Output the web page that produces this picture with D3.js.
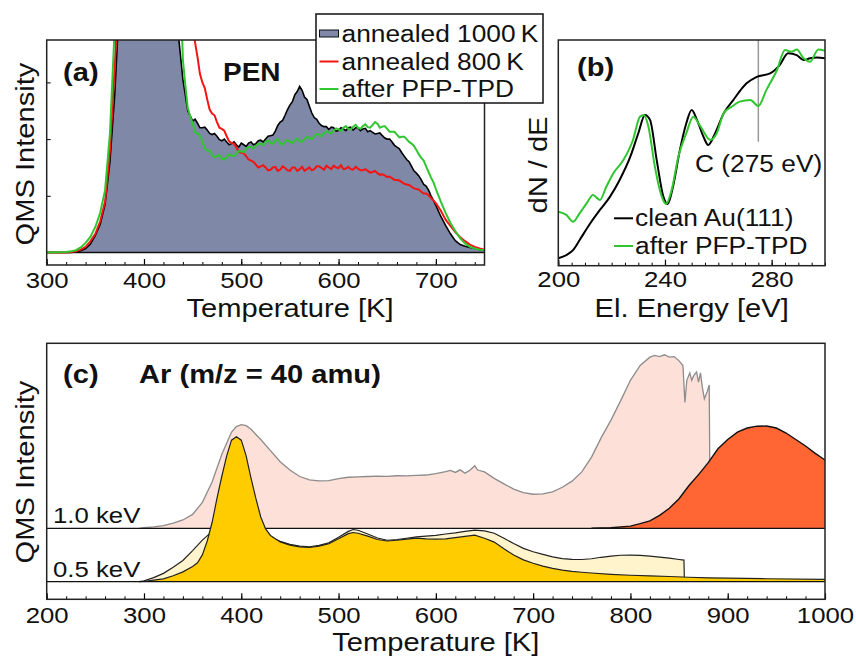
<!DOCTYPE html>
<html>
<head>
<meta charset="utf-8">
<script src="https://cdn.jsdelivr.net/npm/d3@7"></script>
<style>
body { margin: 0; background: #fff; }
svg text { font-family: "Liberation Sans", Arial, sans-serif; fill: #111; }
</style>
</head>
<body>
<svg id="fig" width="856" height="657"></svg>
<script>
// ---------- data ----------
// panel (a): PEN TPD, [T (K), intensity]; the *Fine arrays hold the in-between noisy readings
const pen1000Main = [[300,0],[320,0],[325,0],[330,0.01],[335,0.03],[340,0.07],[345,0.15],[350,0.3],[355,0.5],[360,0.85],
  [365,1.6],[370,2.8],[375,4.5],[380,6],[430,6],[435,3.9],[440,3.05],[445,2.5],[450,2.32],[455,2.28],[460,2.2],
  [465,2.16],[470,2.08],[475,2.05],[480,1.97],[485,1.95],[490,1.92],[495,1.9],[500,1.93],[505,1.87],[510,1.95],
  [515,1.92],[520,1.98],[525,2.0],[530,2.06],[535,2.14],[540,2.3],[545,2.42],[550,2.6],[555,2.78],[560,2.93],
  [565,2.74],[570,2.58],[575,2.38],[580,2.28],[585,2.22],[590,2.17],[595,2.2],[600,2.15],[605,2.18],[610,2.2],
  [615,2.16],[620,2.2],[625,2.18],[630,2.13],[635,2.12],[640,2.1],[645,2.06],[650,2.0],[655,1.95],[660,1.86],
  [665,1.76],[670,1.64],[675,1.52],[680,1.4],[685,1.28],[690,1.17],[695,1.0],[700,0.83],[705,0.64],[710,0.48],
  [715,0.33],[720,0.21],[725,0.14],[730,0.11],[735,0.09],[740,0.07],[745,0.05],[750,0.04]];
const pen1000Fine = [[452.5,2.35],[457.5,2.2],[462.5,2.21],[467.5,2.1],[472.5,2.1],[477.5,1.99],[482.5,2.0],
  [487.5,1.9],[492.5,1.95],[497.5,1.86],[502.5,1.9],[507.5,1.93],[512.5,1.9],[517.5,1.97],[522.5,1.95],
  [527.5,2.05],[532.5,2.07],[537.5,2.24],[542.5,2.33],[547.5,2.52],[552.5,2.66],[557.5,2.84],[562.5,2.86],
  [567.5,2.7],[572.5,2.46],[577.5,2.35],[582.5,2.24],[587.5,2.22],[592.5,2.21],[597.5,2.14],[602.5,2.2],
  [607.5,2.15],[612.5,2.21],[617.5,2.2],[622.5,2.15],[627.5,2.19],[632.5,2.15],[637.5,2.09],[642.5,2.11],
  [647.5,2.02],[652.5,2.0],[657.5,1.89],[662.5,1.83],[667.5,1.7],[672.5,1.6],[677.5,1.44],[682.5,1.35],
  [687.5,1.2],[692.5,1.1],[697.5,0.92]];
const pen800Main = [[300,0],[320,0],[325,0.01],[330,0.02],[335,0.05],[340,0.1],[345,0.2],[350,0.33],[355,0.55],[360,0.9],
  [365,1.8],[370,3.3],[375,5],[380,6],[445,6],[450,4.0],[455,3.45],[460,3.0],[465,2.7],[470,2.45],[475,2.3],
  [480,2.18],[485,2.05],[490,1.93],[495,1.85],[500,1.76],[505,1.7],[510,1.62],[515,1.55],[520,1.52],[525,1.5],
  [530,1.46],[535,1.51],[540,1.46],[545,1.49],[550,1.44],[555,1.5],[560,1.47],[565,1.44],[570,1.5],[575,1.47],
  [580,1.52],[585,1.46],[590,1.5],[595,1.53],[600,1.49],[605,1.47],[610,1.51],[615,1.46],[620,1.48],[625,1.45],
  [630,1.44],[635,1.42],[640,1.4],[645,1.38],[650,1.33],[655,1.31],[660,1.28],[665,1.24],[670,1.2],[675,1.16],
  [680,1.12],[685,1.07],[690,1.04],[695,0.96],[700,0.87],[705,0.74],[710,0.58],[715,0.47],[720,0.36],[725,0.27],
  [730,0.2],[735,0.14],[740,0.1],[745,0.07],[750,0.05]];
const pen800Fine = [[452.5,3.7],[457.5,3.15],[462.5,2.9],[467.5,2.52],[472.5,2.42],[477.5,2.2],[482.5,2.15],
  [487.5,1.96],[492.5,1.92],[497.5,1.78],[502.5,1.75],[507.5,1.64],[512.5,1.6],[517.5,1.5],[522.5,1.54],
  [527.5,1.45],[532.5,1.5],[537.5,1.44],[542.5,1.52],[547.5,1.45],[552.5,1.5],[557.5,1.44],[562.5,1.51],
  [567.5,1.47],[572.5,1.45],[577.5,1.52],[582.5,1.49],[587.5,1.53],[592.5,1.47],[597.5,1.5],[602.5,1.54],
  [607.5,1.48],[612.5,1.47],[617.5,1.51],[622.5,1.45],[627.5,1.47],[632.5,1.41],[637.5,1.44],[642.5,1.37],
  [647.5,1.36],[652.5,1.34],[657.5,1.28],[662.5,1.27],[667.5,1.21],[672.5,1.19],[677.5,1.13],[682.5,1.11],
  [687.5,1.04],[692.5,1.01],[697.5,0.92]];
const penPfpMain = [[300,0],[320,0.01],[325,0.02],[330,0.04],[335,0.09],[340,0.17],[345,0.28],[350,0.45],[355,0.7],
  [360,1.1],[365,2.1],[370,4],[375,6],[435,6],[440,3.4],[445,2.55],[450,2.28],[455,2.1],[460,1.96],[465,1.8],
  [470,1.72],[475,1.7],[480,1.65],[485,1.68],[490,1.71],[495,1.75],[500,1.78],[505,1.83],[510,1.86],[515,1.88],
  [520,1.92],[525,1.95],[530,1.93],[535,1.97],[540,1.93],[545,1.96],[550,1.95],[555,1.98],[560,1.96],[565,2.0],
  [570,2.02],[575,2.05],[580,2.08],[585,2.1],[590,2.12],[595,2.15],[600,2.17],[605,2.2],[610,2.18],[615,2.22],
  [620,2.2],[625,2.23],[630,2.21],[635,2.25],[640,2.27],[645,2.22],[650,2.18],[655,2.13],[660,2.08],[665,2.04],
  [670,2.0],[675,1.92],[680,1.81],[685,1.67],[690,1.52],[695,1.32],[700,1.12],[705,0.9],[710,0.7],[715,0.52],
  [720,0.38],[725,0.25],[730,0.16],[735,0.1],[740,0.07],[745,0.05],[750,0.04]];
const penPfpFine = [[442.5,2.95],[447.5,2.4],[452.5,2.12],[457.5,2.06],[462.5,1.84],[467.5,1.8],[472.5,1.68],
  [477.5,1.72],[482.5,1.64],[487.5,1.73],[492.5,1.7],[497.5,1.79],[502.5,1.77],[507.5,1.86],[512.5,1.84],
  [517.5,1.92],[522.5,1.89],[527.5,1.98],[532.5,1.92],[537.5,2.0],[542.5,1.9],[547.5,1.99],[552.5,1.93],
  [557.5,2.01],[562.5,1.95],[567.5,2.04],[572.5,2.0],[577.5,2.09],[582.5,2.05],[587.5,2.14],[592.5,2.1],
  [597.5,2.19],[602.5,2.14],[607.5,2.23],[612.5,2.17],[617.5,2.25],[622.5,2.18],[627.5,2.26],[632.5,2.2],
  [637.5,2.3],[642.5,2.2],[647.5,2.23],[652.5,2.13],[657.5,2.13],[662.5,2.03],[667.5,2.04],[672.5,1.95],
  [677.5,1.88],[682.5,1.73],[687.5,1.62],[692.5,1.42],[697.5,1.24]];
const legendA = ["annealed 1000\u2009K", "annealed 800\u2009K", "after PFP-TPD"];

// panel (b): Auger spectra, [E (eV), dN/dE (arb.)]
const augerClean = [[200,3.3],[203,4.7],[205.6,7.0],[208,11.4],[212,18.8],[215.6,24.7],[219.4,30.6],[223,38],
  [227,48.3],[230,58.7],[232.5,66.8],[234.4,64.6],[236.9,46.8],[239.4,30.6],[241,27.3],[243,35],[245.6,51.3],
  [248,63.1],[250,69],[252,64.6],[254.4,57.2],[256.2,53.5],[258.8,58.7],[262,67.5],[265.6,73.4],[270.6,80.8],
  [274.4,83.7],[279.4,85.2],[283,88.9],[286.2,94.1],[289.4,93.3],[292,91.1],[294.4,91.9],[297,92.3],[300,91.9]];
const augerPfp = [[200,23.9],[203,22.5],[205.6,19.5],[208,23.2],[210.6,27.6],[213,31.3],[215.6,29.1],[218,35],
  [220.6,40.9],[224.4,46.8],[228,55.7],[230.6,66],[232,66.8],[233.8,61.6],[236.2,43.9],[238.8,30.6],[240.4,27.3],
  [242.5,33.5],[245,48.3],[248,58.7],[250.6,66],[253,62.3],[257,55.7],[259.4,58.7],[262,67.5],[265,70.4],
  [268,72.7],[272,73.4],[275,70.8],[278,77.8],[282,86.7],[285,95.6],[287.5,94.8],[289.4,95.8],[292,91.9],
  [294.4,90.4],[297.5,95.8],[300,95.2]];
const legendB = ["clean Au(111)", "after PFP-TPD"];

// panel (c): Ar TPD, [T (K), intensity]
const ar10first = [[295,0],[300,0.3],[310,0.8],[320,1.5],[330,2.8],[340,4.5],[350,7.5],[360,14],[370,25],[380,40],
  [390,52],[395,55],[400,56],[405,55.5],[410,53.5],[420,48],[430,42],[440,36],[450,31.5],[460,28],[470,26.2],
  [480,25.6],[490,25.8],[500,26.8],[510,27.6],[520,27.8],[530,28],[540,28.2],[550,28.1],[560,28.4],[570,28.3],
  [580,28.6],[590,28.8],[600,29.6],[610,30.6],[615,31.3],[620,30.2],[625,31.6],[630,29.8],[635,31.4],[640,33.8],
  [643,31.5],[650,30.5],[660,27],[670,24],[680,21.2],[690,19.3],[700,18.4],[710,18.6],[720,19.7],[730,22.2],
  [740,25.5],[750,30.5],[760,38.5],[770,49],[780,58.5],[790,69],[800,80],[810,88],[820,92.5],[825,93.5],
  [830,92.8],[835,93.8],[840,92.5],[845,92.8],[850,90.5],[854,88],[856,68],[858,80],[861,84],[863,80],[865,82.5],
  [868,84.5],[870,79],[872,84],[874,76],[876,70],[879,74],[881,77.5],[882,0]];
const ar10second = [[760,0],[780,0.3],[800,1.2],[810,2.5],[820,4],[830,7],[840,10.8],[850,16],[860,23],[870,29],
  [880,35.5],[890,43],[900,48],[910,52],[920,54.2],[930,55.2],[940,55.3],[950,54.2],[960,51.5],[970,48],
  [980,44.5],[990,40.5],[1000,36.9]];
const ar05first = [[295,0],[300,0.5],[310,2.2],[320,4.5],[330,7.8],[340,11.5],[350,16.8],[360,22.5],[370,27.2],
  [380,30.2],[390,32.2],[395,32.6],[400,32.5],[410,31],[420,27.8],[430,24.2],[440,21.8],[450,20.2],[460,19.2],
  [470,18.9],[480,19.6],[490,21],[500,24],[510,27.2],[515,28.2],[520,27.8],[530,25.8],[540,23.6],[550,22.4],
  [560,22.8],[570,23.5],[580,24.2],[590,24.6],[600,25],[610,25.8],[620,26.4],[630,27.2],[640,27.9],[650,27.5],
  [660,26.2],[670,23.5],[680,20.6],[690,18],[700,16.2],[710,14.8],[720,13.4],[730,12.5],[740,12.1],[750,12],
  [760,12.4],[770,13.2],[780,13.8],[790,14.3],[800,14.4],[810,14.2],[820,13.8],[830,13.3],[840,12.7],[850,12],
  [855,11.7],[855.5,0]];
const ar05second = [[295,0],[300,0.2],[310,0.8],[320,1.5],[330,3.2],[340,5.3],[350,8.2],[355,10.2],[360,14.5],
  [365,22],[370,32],[375,45],[380,57],[385,68],[390,76.5],[395,78.4],[400,76.5],[405,68],[410,56],[415,45],
  [420,35],[425,28.5],[430,25],[440,21.5],[450,19.8],[460,18.8],[470,18.5],[480,19.2],[490,20.5],[500,23.2],
  [510,26],[515,26.6],[520,26.2],[530,24.6],[540,22.8],[550,22],[560,22.4],[570,23],[580,23.6],[590,23.2],
  [600,23],[610,23.1],[620,23.8],[630,24.5],[640,25.2],[650,23.5],[660,21.4],[670,17.8],[680,14.4],[690,11.8],
  [700,10],[710,8.4],[720,7.2],[730,6.3],[740,5.6],[750,5.1],[760,4.7],[780,4],[800,3.5],[820,3.1],[840,2.8],
  [860,2.4],[880,2.1],[900,1.9],[940,1.6],[1000,1.3]];

const ticksA = [300, 400, 500, 600, 700];
const ticksB = [200, 240, 280];
const ticksC = [200, 300, 400, 500, 600, 700, 800, 900, 1000];

const byT = (a, b) => a[0] - b[0];
const pen1000 = pen1000Main.concat(pen1000Fine).sort(byT);
const pen800 = pen800Main.concat(pen800Fine).sort(byT);
const penPfp = penPfpMain.concat(penPfpFine).sort(byT);

// ---------- drawing ----------
const SX = 1.12;  // the original lettering is a bit wide
const svg = d3.select("#fig");
const defs = svg.append("defs");

function txt(x, y, s, size, opt) {
    opt = opt || {};
    let t = svg.append("text")
        .attr("transform", "translate(" + x + "," + y + ")" + (opt.rot ? " rotate(-90)" : "") + " scale(" + SX + ",1)")
        .attr("text-anchor", opt.anchor || "start")
        .style("font-size", size + "px")
        .text(s);
    if (opt.bold) t.style("font-weight", "bold");
    return t;
}

function clip(id, x0, y0, x1, y1) {
    defs.append("clipPath").attr("id", id)
        .append("rect").attr("x", x0).attr("y", y0).attr("width", x1 - x0).attr("height", y1 - y0);
    return "url(#" + id + ")";
}

function bottomAxis(x, y, labels, minorStep, pad) {
    let dom = x.domain();
    svg.append("g").attr("transform", "translate(0," + y + ")")
        .call(d3.axisBottom(x).tickValues(d3.range(dom[0], dom[1] + 0.01, minorStep)).tickSize(-3).tickFormat(""))
        .call(a => a.select(".domain").remove());
    let ax = svg.append("g").attr("transform", "translate(0," + y + ")")
        .call(d3.axisBottom(x).tickValues(labels).tickSize(-6).tickPadding(pad).tickFormat(d3.format("d")));
    ax.select(".domain").remove();
    ax.selectAll("line").attr("stroke-width", 1.2);
    ax.selectAll("text").style("font-size", "23px").attr("transform", "scale(" + SX + ",1)");
}

function frame(x0, y0, x1, y1) {
    svg.append("rect").attr("x", x0).attr("y", y0).attr("width", x1 - x0).attr("height", y1 - y0)
        .attr("fill", "none").attr("stroke", "#222").attr("stroke-width", 1.5);
}

// ----- panel (a) -----
const xa = d3.scaleLinear().domain([300, 750]).range([46.7, 484.5]);
const ya = d3.scaleLinear().domain([0, 3]).range([252.5, 82.4]);
const clipA = clip("clipA", 46.7, 40, 484.5, 265);
const lineA = d3.line().x(d => xa(d[0])).y(d => ya(d[1]));
const areaA = d3.area().x(d => xa(d[0])).y0(ya(0)).y1(d => ya(d[1]));
const gA = svg.append("g").attr("clip-path", clipA);
gA.append("path").datum(pen1000).attr("d", areaA).attr("fill", "#7f88a7");
gA.append("line").attr("x1", xa(300)).attr("x2", xa(750)).attr("y1", ya(0)).attr("y2", ya(0))
    .attr("stroke", "#111").attr("stroke-width", 1.3);
gA.append("path").datum(pen1000).attr("d", lineA).attr("fill", "none").attr("stroke", "#000").attr("stroke-width", 1.6);
gA.append("path").datum(pen800).attr("d", lineA).attr("fill", "none").attr("stroke", "#f41414").attr("stroke-width", 2);
gA.append("path").datum(penPfp).attr("d", lineA).attr("fill", "none").attr("stroke", "#30c630").attr("stroke-width", 2);
svg.append("g").attr("transform", "translate(46.7,0)")
    .call(d3.axisRight(ya).tickValues([1, 2, 3]).tickSize(4).tickFormat(""))
    .call(a => a.select(".domain").remove());
bottomAxis(xa, 265, ticksA, 20, 7);
frame(46.7, 40, 484.5, 265);
txt(63, 81, "(a)", 26, { bold: true });
txt(223, 81, "PEN", 25, { bold: true });
txt(290, 317, "Temperature [K]", 26, { anchor: "middle" });
txt(34, 154, "QMS Intensity", 26, { anchor: "middle", rot: true });

// legend (a)
svg.append("rect").attr("x", 316).attr("y", 14).attr("width", 227).attr("height", 89)
    .attr("fill", "#fff").attr("stroke", "#111").attr("stroke-width", 1.5);
const legY = [33.5, 61.5, 89];
svg.append("rect").attr("x", 319.5).attr("y", legY[0] - 3.5).attr("width", 19).attr("height", 7)
    .attr("fill", "#7f88a7").attr("stroke", "#111").attr("stroke-width", 1);
svg.append("line").attr("x1", 319.5).attr("x2", 338.5).attr("y1", legY[1]).attr("y2", legY[1]).attr("stroke", "#f41414").attr("stroke-width", 2);
svg.append("line").attr("x1", 319.5).attr("x2", 338.5).attr("y1", legY[2]).attr("y2", legY[2]).attr("stroke", "#30c630").attr("stroke-width", 2);
legendA.forEach((s, i) => txt(341.5, legY[i] + 8, s, 23.5));

// ----- panel (b) -----
const xb = d3.scaleLinear().domain([200, 300]).range([558.3, 825]);
const yb = d3.scaleLinear().domain([0, 100]).range([265.7, 40]);
const clipB = clip("clipB", 558.3, 40, 825, 265.7);
const lineB = d3.line().x(d => xb(d[0])).y(d => yb(d[1])).curve(d3.curveMonotoneX);
const gB = svg.append("g").attr("clip-path", clipB);
gB.append("line").attr("x1", xb(275)).attr("x2", xb(275)).attr("y1", 40).attr("y2", 141.7)
    .attr("stroke", "#999").attr("stroke-width", 1.5);
gB.append("path").datum(augerClean).attr("d", lineB).attr("fill", "none").attr("stroke", "#000").attr("stroke-width", 2);
gB.append("path").datum(augerPfp).attr("d", lineB).attr("fill", "none").attr("stroke", "#30c630").attr("stroke-width", 2);
bottomAxis(xb, 265.7, ticksB, 5, 5);
frame(558.3, 40, 825, 265.7);
txt(577, 76, "(b)", 26, { bold: true });
txt(695, 172, "C (275 eV)", 23.5);
txt(547, 165, "dN / dE", 26, { anchor: "middle", rot: true });
txt(691.7, 317, "El. Energy [eV]", 26, { anchor: "middle" });
const legBY = [218.3, 246];
svg.append("line").attr("x1", 614).attr("x2", 633).attr("y1", legBY[0]).attr("y2", legBY[0]).attr("stroke", "#000").attr("stroke-width", 2);
svg.append("line").attr("x1", 614).attr("x2", 633).attr("y1", legBY[1]).attr("y2", legBY[1]).attr("stroke", "#30c630").attr("stroke-width", 2);
legendB.forEach((s, i) => txt(635, legBY[i] + 8, s, 23.5));

// ----- panel (c) -----
const xc = d3.scaleLinear().domain([200, 1000]).range([46.7, 825]);
const y10 = d3.scaleLinear().domain([0, 100]).range([528.3, 343.3]);
const y05 = d3.scaleLinear().domain([0, 100]).range([581.7, 396.7]);
const clipC = clip("clipC", 46.7, 343.3, 825, 599.3);
const gC = svg.append("g").attr("clip-path", clipC);

function filled(data, y, fill, stroke, sw) {
    gC.append("path").datum(data)
        .attr("d", d3.area().x(d => xc(d[0])).y0(y(0)).y1(d => y(d[1])))
        .attr("fill", fill);
    gC.append("path").datum(data)
        .attr("d", d3.line().x(d => xc(d[0])).y(d => y(d[1])))
        .attr("fill", "none").attr("stroke", stroke).attr("stroke-width", sw);
}
function base(y) {
    gC.append("line").attr("x1", xc(200)).attr("x2", xc(1000)).attr("y1", y(0)).attr("y2", y(0))
        .attr("stroke", "#111").attr("stroke-width", 1.3);
}
filled(ar10first, y10, "#fde0d8", "#8c8c8c", 1.3);
filled(ar10second, y10, "#ff6633", "#111", 1.4);
base(y10);
filled(ar05first, y05, "#fff4cc", "#222", 1.2);
filled(ar05second, y05, "#ffcc00", "#222", 1.2);
base(y05);
bottomAxis(xc, 599.3, ticksC, 20, 7);
frame(46.7, 343.3, 825, 599.3);
txt(63, 383, "(c)", 26, { bold: true });
txt(139, 383, "Ar (m/z = 40 amu)", 26, { bold: true });
txt(53, 523, "1.0 keV", 23);
txt(53, 577, "0.5 keV", 23);
txt(435.8, 651, "Temperature [K]", 26, { anchor: "middle" });
txt(34, 472, "QMS Intensity", 26, { anchor: "middle", rot: true });
</script>
</body>
</html>
